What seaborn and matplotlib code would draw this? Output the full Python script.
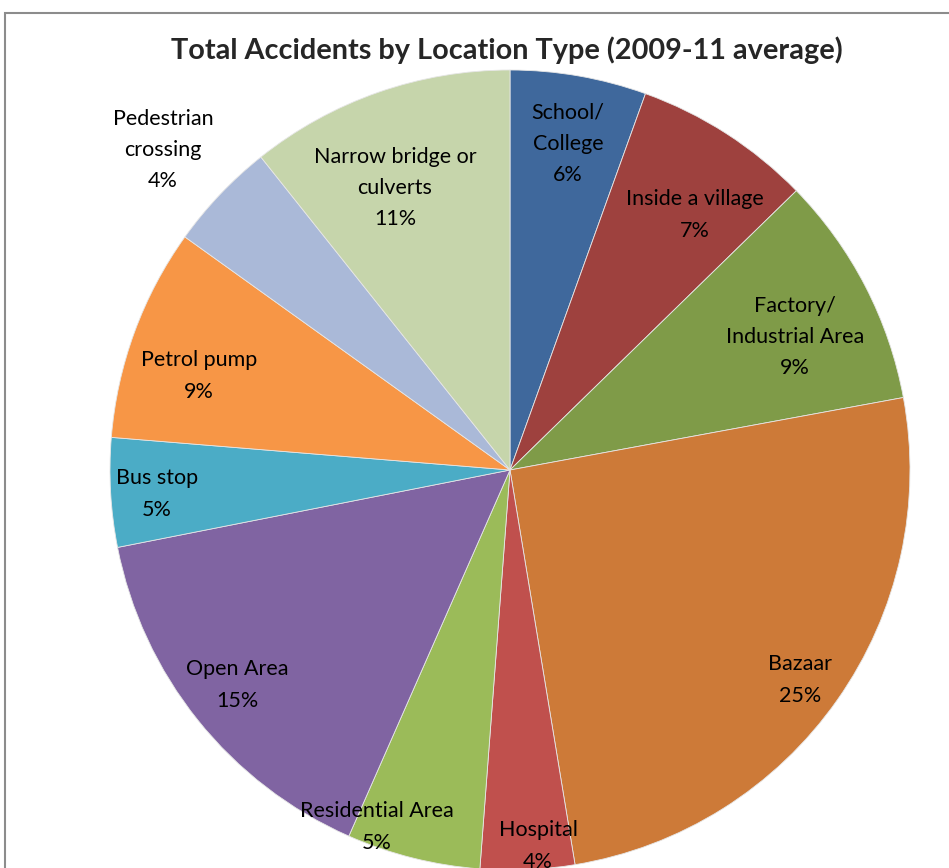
import matplotlib
matplotlib.use("Agg")
import matplotlib.pyplot as plt
import seaborn as sns
from matplotlib.patches import Rectangle

categories = ["School/\nCollege", "Inside a village", "Factory/\nIndustrial Area", "Bazaar",
              "Hospital", "Residential Area", "Open Area", "Bus stop", "Petrol pump",
              "Pedestrian\ncrossing", "Narrow bridge or\nculverts"]
values = [5.5, 7.2, 9.4, 25.3, 3.8, 5.4, 15.3, 4.4, 8.6, 4.4, 10.7]
pct_labels = ["6%", "7%", "9%", "25%", "4%", "5%", "15%", "5%", "9%", "4%", "11%"]
colors = ["#3F689C", "#9E413E", "#7F9B48", "#CD7A38", "#C0504D", "#9BBB59",
          "#8064A2", "#4BACC6", "#F79646", "#AAB9D8", "#C6D5AB"]

# label centres in pixels (layout)
label_px = [(568, 144), (695, 215), (795, 337), (800, 680), (538, 846), (377, 827),
            (237, 685), (157, 494), (199, 376), (163, 150), (395, 188)]

sns.set_theme(style="white")
plt.rcParams["font.family"] = ["Lato", "DejaVu Sans"]

W, H = 949, 868
fig = plt.figure(figsize=(W / 100, H / 100), dpi=100)
cx, cy, R = 510, 470, 400
ax = fig.add_axes([(cx - R) / W, (H - cy - R) / H, 2 * R / W, 2 * R / H])
ax.pie(values, colors=colors, startangle=90, counterclock=False, radius=1,
       wedgeprops=dict(linewidth=0.6, edgecolor="#E6E6E6"))
ax.set_xlim(-1, 1)
ax.set_ylim(-1, 1)
ax.set_aspect("equal")
ax.axis("off")

for (px, py), cat, pct in zip(label_px, categories, pct_labels):
    ax.text((px - cx) / R, (cy - py) / R, cat + "\n" + pct, ha="center", va="center",
            fontsize=15.5, linespacing=1.7, color="black")

fig.text(507 / W, 1 - 50 / H, "Total Accidents by Location Type (2009-11 average)",
         ha="center", va="center", fontsize=20.8, fontweight="bold")

fig.patches.append(Rectangle((4.5 / W, -0.1), 1.2, 1 - 13.5 / H + 0.1, transform=fig.transFigure,
                             fill=False, edgecolor="#8C8C8C", linewidth=1.5))

fig.savefig("out.png", dpi=100)
